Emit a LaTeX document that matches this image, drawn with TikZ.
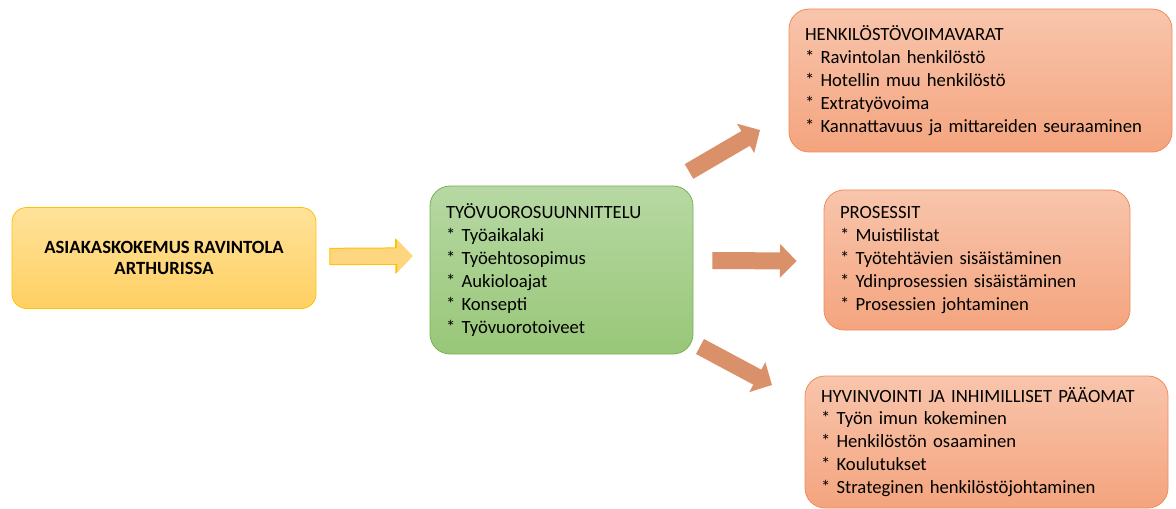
\documentclass[tikz,border=0pt]{standalone}
\usepackage{fontspec}
\setmainfont{Carlito}
\usepackage{tikz}
\usetikzlibrary{calc,positioning,arrows.meta}
\definecolor{goldline}{RGB}{255,192,0}
\definecolor{goldtop}{RGB}{255,226,154}
\definecolor{goldbot}{RGB}{255,208,98}
\definecolor{goldarrow}{RGB}{255,214,128}
\definecolor{greenline}{RGB}{120,178,86}
\definecolor{greentop}{RGB}{183,216,163}
\definecolor{greenbot}{RGB}{152,199,120}
\definecolor{salmonline}{RGB}{240,140,90}
\definecolor{salmontop}{RGB}{248,197,172}
\definecolor{salmonbot}{RGB}{244,164,126}
\definecolor{salmonarrow}{RGB}{218,144,105}
\def\drawsalmon{\draw[color=salmonarrow, line width=12.75pt, -{Triangle[length=12.5pt,width=24.75pt]}]}
\def\drawgold{\draw[color=goldarrow, line width=11.5pt, -{Triangle[length=11.5pt,width=23.5pt]},
  preaction={draw=goldline, line width=13pt, shorten <=-0.75pt, -{Triangle[length=13pt,width=26pt]}}]}
\def\listnode{\node[rounded corners=15pt, draw, line width=0.6pt, align=left, inner xsep=12pt, inner ysep=2pt,
  font=\fontsize{14}{17.2}\selectfont]}
\def\nl{\\\relax*~} % new list line, star kept as text

\begin{document}
\begin{tikzpicture}[x=0.75pt,y=-0.75pt]
\useasboundingbox (0,0) rectangle (1176,509);

% ---------- the customer experience on the left
\node[rounded corners=11pt, draw=goldline, line width=0.6pt, top color=goldtop, bottom color=goldbot,
  minimum width=228pt, minimum height=75.75pt, align=center, font=\fontsize{14}{15.75}\selectfont\bfseries]
  (asiakas) at (164,258) {ASIAKASKOKEMUS RAVINTOLA\\ARTHURISSA};

% ---------- shift planning in the middle
\listnode[draw=greenline, top color=greentop, bottom color=greenbot, text width=173.25pt, minimum height=126pt]
  (suunnittelu) at (561.5,270) {TYÖVUOROSUUNNITTELU\nl Työaikalaki\nl Työehtosopimus\nl Aukioloajat\nl Konsepti\nl Työvuorotoiveet};

\coordinate (gold_tail) at ($ (asiakas.east) + (14,-1.5) $);
\coordinate (gold_tip) at ($ (suunnittelu.west) + (-17,-14) $);
\drawgold (gold_tail) to (gold_tip);

% ---------- the three resources on the right
\listnode[draw=salmonline, top color=salmontop, bottom color=salmonbot, text width=263.25pt, minimum height=107.25pt]
  (voimavarat) at (980.5,80.5) {HENKILÖSTÖVOIMAVARAT\nl Ravintolan henkilöstö\nl Hotellin muu henkilöstö\nl Extratyövoima\nl Kannattavuus ja mittareiden seuraaminen};
\listnode[draw=salmonline, top color=salmontop, bottom color=salmonbot, text width=205.5pt, minimum height=105pt]
  (prosessit) at (977,260) {PROSESSIT\nl Muistilistat\nl Työtehtävien sisäistäminen\nl Ydinprosessien sisäistäminen\nl Prosessien johtaminen};
\listnode[draw=salmonline, top color=salmontop, bottom color=salmonbot, text width=248.25pt, minimum height=99pt]
  (hyvinvointi) at (986.5,442) {HYVINVOINTI JA INHIMILLISET PÄÄOMAT\nl Työn imun kokeminen\nl Henkilöstön osaaminen\nl Koulutukset\nl Strateginen henkilöstöjohtaminen};

% arrows out of the planning box, each one stops short of its target
\coordinate (up_tail) at (689,171.5);
\coordinate (up_tip) at (760,130);
\coordinate (mid_tail) at ($ (suunnittelu.east) + (19,-9.5) $);
\coordinate (mid_tip) at ($ (prosessit.west) + (-27,1) $);
\coordinate (down_tail) at (700,346.5);
\coordinate (down_tip) at (772,385);
\drawsalmon (up_tail) to (up_tip);
\drawsalmon (mid_tail) to (mid_tip);
\drawsalmon (down_tail) to (down_tip);
\end{tikzpicture}
\end{document}
